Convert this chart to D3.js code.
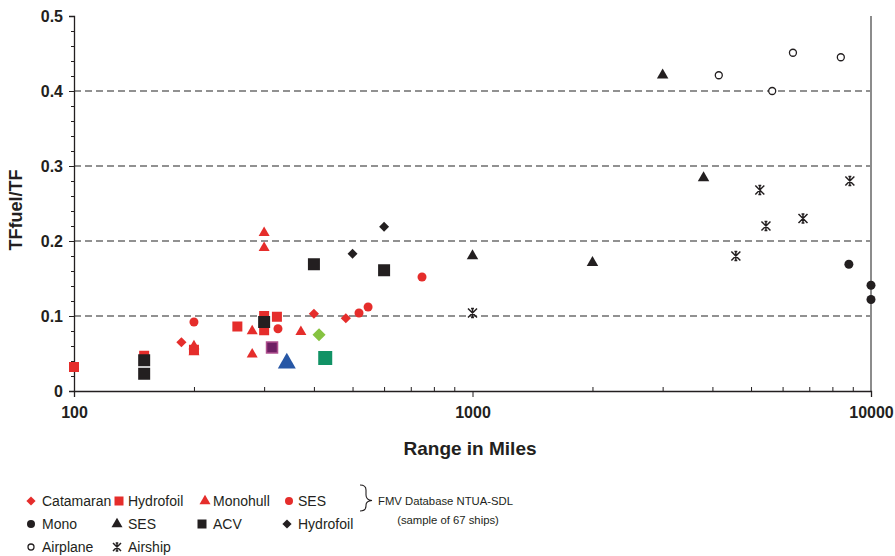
<!DOCTYPE html>
<html>
<head>
<meta charset="utf-8">
<script src="https://cdn.jsdelivr.net/npm/d3@7/dist/d3.min.js"></script>
<style>
  html, body { margin: 0; padding: 0; background: #ffffff; }
  svg { display: block; font-family: "Liberation Sans", Arial, Helvetica, sans-serif; }
</style>
</head>
<body>
<svg id="chart" width="895" height="556"></svg>
<script>
// ---------- DATA ----------
const xTickValues = [100, 1000, 10000];
const yTickValues = [0, 0.1, 0.2, 0.3, 0.4, 0.5];
const gridValues = [0.1, 0.2, 0.3, 0.4];
const xMinorTicks = [200, 300, 400, 500, 600, 700, 800, 900, 2000, 3000, 4000, 5000, 6000, 7000, 8000, 9000];
const yMinorTicks = [0.02, 0.04, 0.06, 0.08, 0.12, 0.14, 0.16, 0.18, 0.22, 0.24, 0.26, 0.28, 0.32, 0.34, 0.36, 0.38, 0.42, 0.44, 0.46, 0.48];

// FMV Database NTUA-SDL (red)
const catamaranRange = [186, 400, 481];
const catamaranTF    = [0.065, 0.103, 0.097];
const hydrofoilRedRange = [100, 150, 200, 257, 300, 300, 323];
const hydrofoilRedTF    = [0.032, 0.047, 0.055, 0.086, 0.100, 0.081, 0.099];
const monohullRange = [200, 200, 300, 300, 280, 280, 371];
const monohullTF    = [0.060, 0.052, 0.211, 0.191, 0.080, 0.049, 0.079];
const sesRedRange = [200, 325, 519, 547, 747];
const sesRedTF    = [0.092, 0.083, 0.104, 0.112, 0.152];

// black series
const monoRange = [8800, 10000, 10000];
const monoTF    = [0.169, 0.141, 0.122];
const sesBlackRange = [1000, 2000, 3000, 3800];
const sesBlackTF    = [0.180, 0.171, 0.421, 0.284];
const acvRange = [150, 150, 300, 400, 600];
const acvTF    = [0.041, 0.023, 0.092, 0.169, 0.161];
const hydrofoilBlackRange = [500, 600];
const hydrofoilBlackTF    = [0.183, 0.219];
const airplaneRange = [4150, 5650, 6370, 8400];
const airplaneTF    = [0.421, 0.400, 0.451, 0.445];
const airshipRange = [1000, 4580, 5260, 5450, 6750, 8850];
const airshipTF    = [0.104, 0.180, 0.268, 0.220, 0.230, 0.280];

// individually highlighted points (no legend entry)
const highlightNames = ["purpleSquare", "blueTriangle", "greenDiamond", "tealSquare"];
const highlightRange = [314, 342, 412, 427];
const highlightTF    = [0.058, 0.037, 0.075, 0.044];

const legendRow1 = ["Catamaran", "Hydrofoil", "Monohull", "SES"];
const legendRow2 = ["Mono", "SES", "ACV", "Hydrofoil"];
const legendRow3 = ["Airplane", "Airship"];

// ---------- STYLE ----------
const RED = "#e52d2b";
const BLACK = "#231f20";
const TEXT = "#231f20";

const svg = d3.select("#chart");
const x = d3.scaleLog().domain([100, 10000]).range([74, 871]);
const y = d3.scaleLinear().domain([0, 0.5]).range([391, 16]);

// grid
svg.append("g").selectAll("line").data(gridValues).join("line")
  .attr("x1", x(100)).attr("x2", x(10000))
  .attr("y1", d => y(d)).attr("y2", d => y(d))
  .attr("stroke", "#6e6e6e").attr("stroke-width", 1.3)
  .attr("stroke-dasharray", "7,4");

// right frame line
svg.append("line")
  .attr("x1", x(10000)).attr("x2", x(10000))
  .attr("y1", y(0.5)).attr("y2", y(0))
  .attr("stroke", "#8c8c8c").attr("stroke-width", 2);

// y axis
const yAxis = svg.append("g").attr("transform", `translate(${x(100)},0)`)
  .call(d3.axisLeft(y).tickValues(yTickValues).tickSize(5).tickPadding(6)
    .tickFormat(d => d === 0 ? "0" : d.toFixed(1)));
yAxis.select(".domain").attr("stroke", BLACK).attr("stroke-width", 1.3);
yAxis.selectAll(".tick line").attr("stroke", BLACK);
yAxis.selectAll("text").attr("font-size", 16).attr("font-weight", "bold").attr("fill", TEXT)
  .attr("font-family", "Liberation Sans, Arial, sans-serif");

const yMinor = svg.append("g").attr("transform", `translate(${x(100)},0)`)
  .call(d3.axisLeft(y).tickValues(yMinorTicks).tickSize(3).tickFormat(""));
yMinor.select(".domain").remove();
yMinor.selectAll(".tick line").attr("stroke", BLACK);

// x axis
const xAxis = svg.append("g").attr("transform", `translate(0,${y(0)})`)
  .call(d3.axisBottom(x).tickValues(xTickValues).tickSize(6).tickPadding(10)
    .tickFormat(d3.format("d")));
xAxis.select(".domain").attr("stroke", BLACK).attr("stroke-width", 1.3);
xAxis.selectAll(".tick line").attr("stroke", BLACK);
xAxis.selectAll("text").attr("font-size", 16).attr("font-weight", "bold").attr("fill", TEXT)
  .attr("font-family", "Liberation Sans, Arial, sans-serif");

const xMinor = svg.append("g").attr("transform", `translate(0,${y(0)})`)
  .call(d3.axisBottom(x).tickValues(xMinorTicks).tickSize(-4).tickFormat(""));
xMinor.select(".domain").remove();
xMinor.selectAll(".tick line").attr("stroke", BLACK);

// axis titles
svg.append("text").attr("x", 470).attr("y", 455).attr("text-anchor", "middle")
  .attr("font-size", 19).attr("font-weight", "bold").attr("fill", TEXT).text("Range in Miles");
svg.append("text").attr("transform", "translate(22,210) rotate(-90)").attr("text-anchor", "middle")
  .attr("font-size", 18).attr("font-weight", "bold").attr("fill", TEXT).text("TFfuel/TF");

// ---------- MARKERS ----------
function zip(xs, ys) { return xs.map((v, i) => ({ r: v, t: ys[i] })); }

function airshipPath(s) {
  const h = s / 2, c = s * 0.16;
  return `M${-h},${-h}L${h},${h}M${-h},${h}L${h},${-h}M0,${-h}L0,${h}` +
         `M${-c},${-h}L${c},${-h}M${-c},${h}L${c},${h}`;
}

function drawMarker(g, kind, color, size, opts = {}) {
  if (kind === "circle") {
    g.append("circle").attr("r", size / 2)
      .attr("fill", opts.open ? "#fff" : color)
      .attr("stroke", color).attr("stroke-width", opts.open ? 1.3 : 0);
  } else if (kind === "square") {
    g.append("rect").attr("x", -size / 2).attr("y", -size / 2)
      .attr("width", size).attr("height", size).attr("fill", color)
      .attr("stroke", opts.stroke || "none").attr("stroke-width", opts.strokeWidth || 0);
  } else if (kind === "diamond") {
    g.append("rect").attr("x", -size / 2).attr("y", -size / 2)
      .attr("width", size).attr("height", size).attr("fill", color)
      .attr("transform", "rotate(45)");
  } else if (kind === "triangle") {
    const a = size * size * Math.sqrt(3) / 4;
    g.append("path").attr("d", d3.symbol(d3.symbolTriangle, a)()).attr("fill", color);
  } else if (kind === "airship") {
    g.append("path").attr("d", airshipPath(size)).attr("stroke", color)
      .attr("stroke-width", 1.5).attr("fill", "none");
  }
}

function drawSeries(xs, ys, kind, color, size, opts) {
  const gs = svg.append("g").selectAll("g").data(zip(xs, ys)).join("g")
    .attr("transform", d => `translate(${x(d.r)},${y(d.t)})`);
  gs.each(function () { drawMarker(d3.select(this), kind, color, size, opts); });
}

// red series
drawSeries(hydrofoilRedRange, hydrofoilRedTF, "square", RED, 10);
drawSeries(monohullRange, monohullTF, "triangle", RED, 11);
drawSeries(catamaranRange, catamaranTF, "diamond", RED, 7.2);
drawSeries(sesRedRange, sesRedTF, "circle", RED, 9);

// highlighted points
const hl = zip(highlightRange, highlightTF);
drawSeries([hl[0].r], [hl[0].t], "square", "#6e1f63", 11, { stroke: "#b0508f", strokeWidth: 1.5 });
drawSeries([hl[1].r], [hl[1].t], "triangle", "#2757a5", 18);
drawSeries([hl[2].r], [hl[2].t], "diamond", "#86c341", 9.2);
drawSeries([hl[3].r], [hl[3].t], "square", "#119265", 14);

// black series
drawSeries(acvRange, acvTF, "square", BLACK, 12);
drawSeries(hydrofoilBlackRange, hydrofoilBlackTF, "diamond", BLACK, 7);
drawSeries(sesBlackRange, sesBlackTF, "triangle", BLACK, 11.5);
drawSeries(monoRange, monoTF, "circle", BLACK, 9);
drawSeries(airplaneRange, airplaneTF, "circle", BLACK, 7, { open: true });
drawSeries(airshipRange, airshipTF, "airship", BLACK, 9);

// ---------- LEGEND ----------
const legendItems = [
  { label: legendRow1[0], kind: "diamond", color: RED, size: 6.5, mx: 31, tx: 42, y: 501 },
  { label: legendRow1[1], kind: "square", color: RED, size: 9, mx: 119, tx: 128, y: 501 },
  { label: legendRow1[2], kind: "triangle", color: RED, size: 11, mx: 205, tx: 213, y: 501 },
  { label: legendRow1[3], kind: "circle", color: RED, size: 8, mx: 289, tx: 298, y: 501 },
  { label: legendRow2[0], kind: "circle", color: BLACK, size: 8, mx: 31, tx: 42, y: 524 },
  { label: legendRow2[1], kind: "triangle", color: BLACK, size: 11, mx: 117, tx: 128, y: 524 },
  { label: legendRow2[2], kind: "square", color: BLACK, size: 9, mx: 202, tx: 213, y: 524 },
  { label: legendRow2[3], kind: "diamond", color: BLACK, size: 6.5, mx: 287, tx: 298, y: 524 },
  { label: legendRow3[0], kind: "circle", color: BLACK, size: 6, mx: 31, tx: 42, y: 547, open: true },
  { label: legendRow3[1], kind: "airship", color: BLACK, size: 8, mx: 117, tx: 128, y: 547 }
];
const lg = svg.append("g");
legendItems.forEach(it => {
  const m = lg.append("g").attr("transform", `translate(${it.mx},${it.y})`);
  drawMarker(m, it.kind, it.color, it.size, { open: it.open });
  lg.append("text").attr("x", it.tx).attr("y", it.y).attr("dy", "0.36em")
    .attr("font-size", 14).attr("fill", TEXT).text(it.label);
});

// brace + database note
lg.append("path")
  .attr("d", "M360,485 Q366,485 366,490 L366,495 Q366,500 372,500.5 Q366,501 366,505 L366,506 Q366,511 360,511")
  .attr("fill", "none").attr("stroke", TEXT).attr("stroke-width", 1.1);
lg.append("text").attr("x", 378).attr("y", 501).attr("dy", "0.36em")
  .attr("font-size", 11.3).attr("fill", TEXT).text("FMV Database NTUA-SDL");
lg.append("text").attr("x", 448).attr("y", 520).attr("dy", "0.36em").attr("text-anchor", "middle")
  .attr("font-size", 11.3).attr("fill", TEXT).text("(sample of 67 ships)");
</script>
</body>
</html>
